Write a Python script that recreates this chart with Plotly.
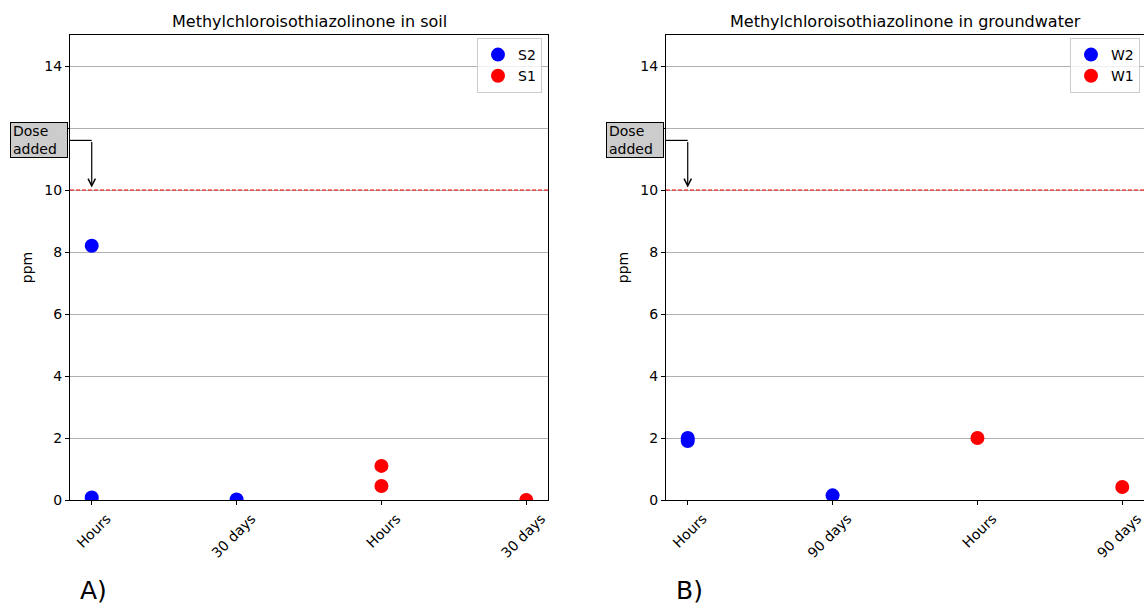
import plotly.graph_objects as go

# ---------------- data ----------------
soil_ticks = ["Hours", "30 days", "Hours", "30 days"]
water_ticks = ["Hours", "90 days", "Hours", "90 days"]

s2_x = [0, 0, 1]
s2_y = [8.2, 0.08, 0.02]
s1_x = [2, 2, 3]
s1_y = [1.1, 0.45, 0.0]

w2_x = [0, 0, 1]
w2_y = [2.0, 1.9, 0.15]
w1_x = [2, 3]
w1_y = [2.0, 0.42]

dose_level = 10
dose_label_y = 11.6
y_ticks = [0, 2, 4, 6, 8, 10, 12, 14]

# ---------------- figure ----------------
W, H = 1144, 604
L_T, L_B = 35, 104
FONT = "DejaVu Sans"

fig = go.Figure()
mk = dict(size=14, line=dict(width=0))
fig.add_trace(go.Scatter(x=s2_x, y=s2_y, mode="markers", name="S2",
                         marker=dict(color="blue", **mk), xaxis="x", yaxis="y", legend="legend"))
fig.add_trace(go.Scatter(x=s1_x, y=s1_y, mode="markers", name="S1",
                         marker=dict(color="red", **mk), xaxis="x", yaxis="y", legend="legend"))
fig.add_trace(go.Scatter(x=w2_x, y=w2_y, mode="markers", name="W2",
                         marker=dict(color="blue", **mk), xaxis="x2", yaxis="y2", legend="legend2"))
fig.add_trace(go.Scatter(x=w1_x, y=w1_y, mode="markers", name="W1",
                         marker=dict(color="red", **mk), xaxis="x2", yaxis="y2", legend="legend2"))

dom1 = [70 / W, 548 / W]
dom2 = [666 / W, 1.0]

def xax(dom, ticks):
    return dict(domain=dom, range=[-0.15, 3.15], tickmode="array",
                tickvals=list(range(len(ticks))), ticktext=ticks, tickangle=-45,
                ticks="outside", ticklen=4, tickcolor="black", showgrid=False,
                showline=True, linecolor="black", linewidth=1, mirror=True,
                zeroline=False, tickfont=dict(size=14, color="black", family=FONT),
                ticklabelshift=15, ticklabeloverflow="allow")

def yax(anchor, mirror=True):
    return dict(range=[0, 15], tickvals=y_ticks, ticks="outside", ticklen=4,
                tickcolor="black", showgrid=True, gridcolor="#b0b0b0", gridwidth=1,
                showline=True, linecolor="black", linewidth=1, mirror=mirror,
                zeroline=False, anchor=anchor,
                tickfont=dict(size=14, color="black", family=FONT),
                title=dict(text="ppm", standoff=8, font=dict(size=14, color="black", family=FONT)))

leg = dict(bgcolor="rgba(255,255,255,0.8)", bordercolor="#cccccc", borderwidth=1,
           font=dict(size=14, family=FONT), yanchor="top", y=(500 - 38) / 465,
           xanchor="right", tracegroupgap=0)

fig.update_layout(
    width=W, height=H,
    margin=dict(l=0, r=0, t=L_T, b=L_B),
    paper_bgcolor="white", plot_bgcolor="white",
    font=dict(family=FONT, size=14, color="black"),
    xaxis=dict(anchor="y", **xax(dom1, soil_ticks)),
    yaxis=yax("x"),
    xaxis2=dict(anchor="y2", **xax(dom2, water_ticks)),
    yaxis2=yax("x2", mirror=False),
    legend=dict(x=542 / W, **leg),
    legend2=dict(x=1140 / W, **leg),
    showlegend=True,
)

titles = ["Methylchloroisothiazolinone in soil", "Methylchloroisothiazolinone in groundwater"]
panel = ["A)", "B)"]
for i, (xa, ya, dom) in enumerate([("x", "y", dom1), ("x2", "y2", dom2)]):
    # title
    fig.add_annotation(text=titles[i], xref="paper", yref="paper",
                       x=(dom[0] + (548 - 70) / W / 2), y=(500 - 22) / 465,
                       xanchor="center", yanchor="middle", showarrow=False,
                       font=dict(size=16, family=FONT, color="black"))
    # panel label
    fig.add_annotation(text=panel[i], xref="paper", yref="paper",
                       x=dom[0] + 8 / W, y=(500 - 590) / 465, xanchor="left",
                       yanchor="middle", showarrow=False,
                       font=dict(size=25, family=FONT, color="black"))
    # dose line
    fig.add_shape(type="line", xref=f"{xa} domain", yref=ya, x0=0, x1=1,
                  y0=dose_level, y1=dose_level,
                  line=dict(color="red", width=1.2, dash="4px,2px"))
    # Dose added box
    fig.add_annotation(text="Dose<br>added", xref=xa, yref=ya, x=-0.15, y=dose_label_y,
                       xanchor="right", yanchor="middle", xshift=-2, showarrow=False,
                       align="left", bgcolor="#cccccc", bordercolor="black",
                       borderwidth=1, borderpad=2, width=52, height=30,
                       font=dict(size=14, family=FONT, color="black"))
    # connector: horizontal then arrow down
    fig.add_shape(type="line", xref=xa, yref=ya, x0=-0.15, x1=0,
                  y0=dose_label_y, y1=dose_label_y, line=dict(color="black", width=1.2))
    fig.add_annotation(text="", xref=xa, yref=ya, x=0, y=dose_level + 0.08,
                       axref=xa, ayref=ya, ax=0, ay=dose_label_y, showarrow=True,
                       arrowhead=5, arrowsize=1.2, arrowwidth=1.2, arrowcolor="black")

fig.write_html("out.html")
